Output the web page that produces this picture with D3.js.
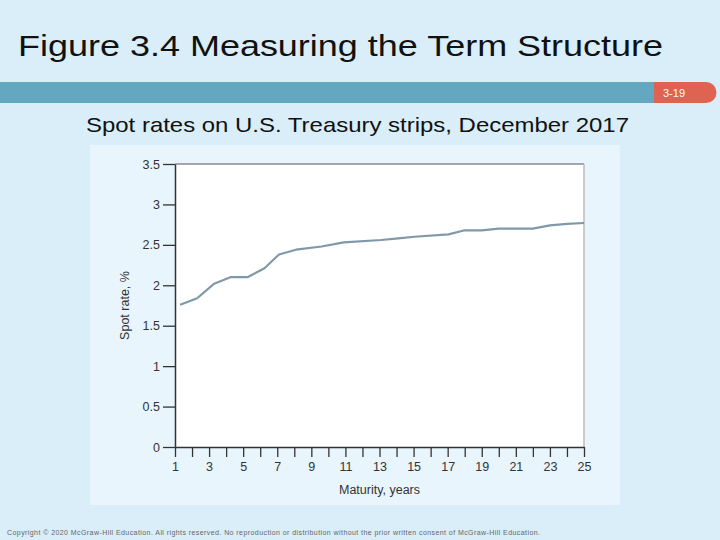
<!DOCTYPE html>
<html>
<head>
<meta charset="utf-8">
<script src="https://cdn.jsdelivr.net/npm/d3@7"></script>
<style>
  body { margin: 0; background: #d9eef8; }
  svg { display: block; font-family: "Liberation Sans", Arial, sans-serif; }
</style>
</head>
<body>
<div id="chart"></div>
<script>
// maturity in years and spot rate in %
var maturity = [1.3, 2.3, 3.3, 4.25, 5.25, 6.25, 7.1, 8.1, 9.6, 10.9, 13.1, 14.1, 15.05, 17.05, 18, 19, 20, 22, 23, 24, 25];
var spotRate = [1.76, 1.84, 2.02, 2.10, 2.10, 2.21, 2.38, 2.44, 2.48, 2.53, 2.56, 2.58, 2.60, 2.63, 2.68, 2.68, 2.70, 2.70, 2.74, 2.76, 2.77];
var xTicks = d3.range(1, 26);
var xLabels = d3.range(1, 26, 2);
var yTicks = [0, 0.5, 1, 1.5, 2, 2.5, 3, 3.5];

var wt = 720;
var ht = 540;
var margin = { top: 164, right: 136, bottom: 93, left: 175 };
var width = wt - margin.left - margin.right;
var height = ht - margin.top - margin.bottom;

var svg = d3.select("#chart").append("svg")
    .attr("width", wt)
    .attr("height", ht);

// slide header
svg.append("text")
    .attr("x", 18)
    .attr("y", 56)
    .attr("font-size", 30)
    .attr("fill", "#111")
    .attr("textLength", 645)
    .attr("lengthAdjust", "spacingAndGlyphs")
    .text("Figure 3.4 Measuring the Term Structure");

svg.append("rect")
    .attr("x", 0).attr("y", 82)
    .attr("width", 690).attr("height", 21)
    .attr("fill", "#63a7c0");

svg.append("path")
    .attr("d", "M654,82 H706 A10.5,10.5 0 0 1 706,103 H654 Z")
    .attr("fill", "#df6350");

svg.append("text")
    .attr("x", 674).attr("y", 97)
    .attr("text-anchor", "middle")
    .attr("font-size", 11)
    .attr("fill", "#fff")
    .text("3-19");

svg.append("text")
    .attr("x", 86)
    .attr("y", 132)
    .attr("font-size", 21)
    .attr("fill", "#111")
    .attr("textLength", 543)
    .attr("lengthAdjust", "spacingAndGlyphs")
    .text("Spot rates on U.S. Treasury strips, December 2017");

// figure panel
svg.append("rect")
    .attr("x", 90).attr("y", 145)
    .attr("width", 530).attr("height", 360)
    .attr("fill", "#e9f5fc");

var g = svg.append("g")
    .attr("transform", "translate(" + margin.left + "," + margin.top + ")");

var x = d3.scaleLinear()
    .domain([1, 25])
    .range([0, width]);

var y = d3.scaleLinear()
    .domain([0, 3.5])
    .range([height, 0]);

g.append("rect")
    .attr("width", width)
    .attr("height", height)
    .attr("fill", "#fff");

// top and right frame
g.append("line")
    .attr("x1", 0).attr("x2", width)
    .attr("y1", 0).attr("y2", 0)
    .attr("stroke", "#555").attr("stroke-width", 1);
g.append("line")
    .attr("x1", width).attr("x2", width)
    .attr("y1", 0).attr("y2", height)
    .attr("stroke", "#bbb").attr("stroke-width", 1.5);

var line = d3.line()
    .x(function (d, i) { return x(maturity[i]); })
    .y(function (d) { return y(d); });

g.append("path")
    .datum(spotRate)
    .attr("fill", "none")
    .attr("stroke", "#7f99a8")
    .attr("stroke-width", 2.2)
    .attr("stroke-linejoin", "round")
    .attr("d", line);

var xAxis = g.append("g")
    .attr("transform", "translate(0," + height + ")")
    .call(d3.axisBottom(x)
        .tickValues(xTicks)
        .tickSizeInner(10)
        .tickSizeOuter(0)
        .tickPadding(5)
        .tickFormat(function (d) { return xLabels.indexOf(d) >= 0 ? d : ""; }));

var yAxis = g.append("g")
    .call(d3.axisLeft(y)
        .tickValues(yTicks)
        .tickSizeInner(12)
        .tickSizeOuter(0)
        .tickPadding(3)
        .tickFormat(function (d) { return d; }));

[xAxis, yAxis].forEach(function (a) {
    a.select(".domain").attr("stroke", "#333").attr("stroke-width", 1.5);
    a.selectAll(".tick line").attr("stroke", "#333").attr("stroke-width", 1.3);
    a.selectAll(".tick text")
        .attr("fill", "#333")
        .attr("font-size", 12.5)
        .attr("font-family", "'Liberation Sans Narrow', 'Liberation Sans', Arial, sans-serif");
});

g.append("text")
    .attr("x", width / 2)
    .attr("y", height + 47)
    .attr("text-anchor", "middle")
    .attr("font-size", 12.5)
    .attr("fill", "#333")
    .attr("font-family", "'Liberation Sans Narrow', 'Liberation Sans', Arial, sans-serif")
    .text("Maturity, years");

g.append("text")
    .attr("transform", "rotate(-90)")
    .attr("x", -height / 2)
    .attr("y", -46)
    .attr("text-anchor", "middle")
    .attr("font-size", 12.5)
    .attr("fill", "#333")
    .attr("font-family", "'Liberation Sans Narrow', 'Liberation Sans', Arial, sans-serif")
    .text("Spot rate, %");

svg.append("text")
    .attr("x", 7)
    .attr("y", 535)
    .attr("font-size", 7)
    .attr("fill", "#666")
    .attr("textLength", 533)
    .attr("lengthAdjust", "spacing")
    .text("Copyright © 2020 McGraw-Hill Education. All rights reserved. No reproduction or distribution without the prior written consent of McGraw-Hill Education.");
</script>
</body>
</html>
